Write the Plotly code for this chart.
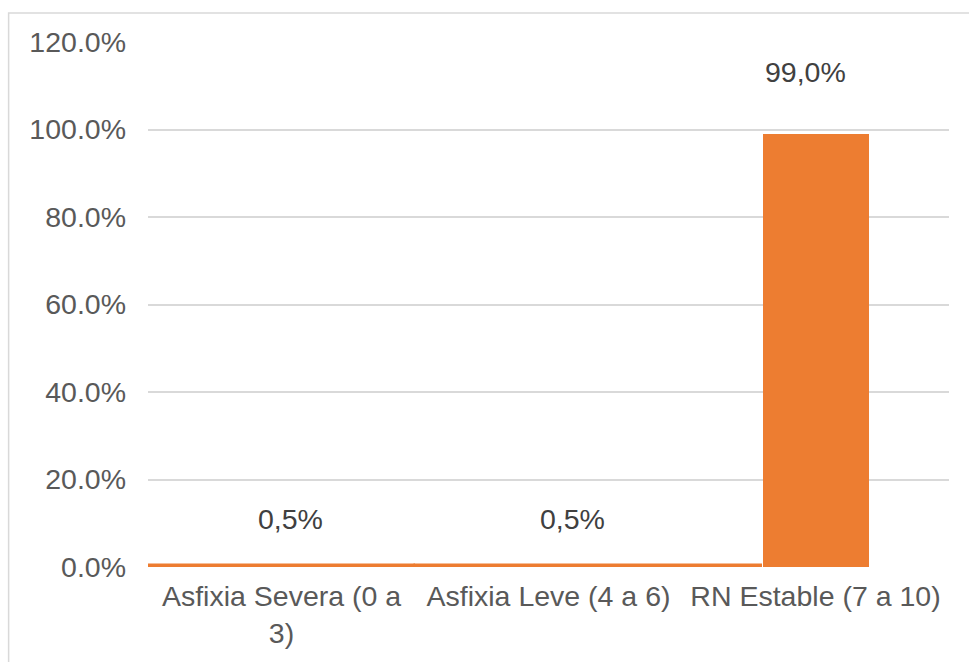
import plotly.graph_objects as go

# Apgar score groups and share of newborns in each
categories = ["Asfixia Severa (0 a<br>3)", "Asfixia Leve (4 a 6)", "RN Estable (7 a 10)"]
values = [0.005, 0.005, 0.99]
y_ticks = [0.0, 0.2, 0.4, 0.6, 0.8, 1.0, 1.2]

# bar geometry (category units) and label offsets (pixels)
bar_offsets = [-0.5, -0.5, -0.197]
bar_widths = [1.0, 1.3, 0.397]
bar_outline = [1.5, 1.5, 0]
label_dx = [9, 24, -10]
label_dy = [46, 46, 62]

ORANGE = "#ED7D31"
GRID = "#D9D9D9"
TEXT = "#595959"
FONT = "Liberation Sans, Arial, sans-serif"
SIZE = 28.5

x_pos = list(range(len(categories)))

fig = go.Figure(
    go.Bar(
        x=x_pos,
        y=values,
        offset=bar_offsets,
        width=bar_widths,
        marker=dict(color=ORANGE, line=dict(width=bar_outline, color=ORANGE)),
        hoverinfo="skip",
        cliponaxis=False,
    )
)

# value labels, Spanish decimal comma
for i, v in enumerate(values):
    txt = f"{v * 100:.1f}%".replace(".", ",")
    fig.add_annotation(
        x=x_pos[i], y=v, text=txt, showarrow=False,
        xanchor="center", yanchor="middle",
        xshift=label_dx[i], yshift=label_dy[i],
        font=dict(family=FONT, size=SIZE, color="#404040"),
    )

# outer chart frame
fig.add_shape(
    type="rect", xref="paper", yref="paper",
    x0=-0.174, x1=1.06, y0=-0.3, y1=1.0552,
    line=dict(color=GRID, width=1.5), fillcolor="rgba(0,0,0,0)",
    layer="below",
)

fig.update_layout(
    width=969, height=662,
    margin=dict(l=148, r=20, t=42, b=95),
    paper_bgcolor="white", plot_bgcolor="white",
    showlegend=False,
    bargap=0,
    font=dict(family=FONT, size=SIZE, color=TEXT),
    xaxis=dict(
        range=[-0.5, 2.5],
        tickmode="array", tickvals=x_pos, ticktext=categories,
        showgrid=False, zeroline=False, showline=False,
        ticks="", ticklabelstandoff=9,
        tickfont=dict(family=FONT, size=SIZE, color=TEXT),
    ),
    yaxis=dict(
        range=[0, 1.2],
        tickmode="array", tickvals=y_ticks, tickformat=".1%",
        showgrid=True, gridcolor=GRID, gridwidth=1.5,
        zeroline=False, showline=False, ticks="",
        ticklabelstandoff=21,
        tickfont=dict(family=FONT, size=SIZE, color=TEXT),
    ),
)

fig.write_html("out.html")
